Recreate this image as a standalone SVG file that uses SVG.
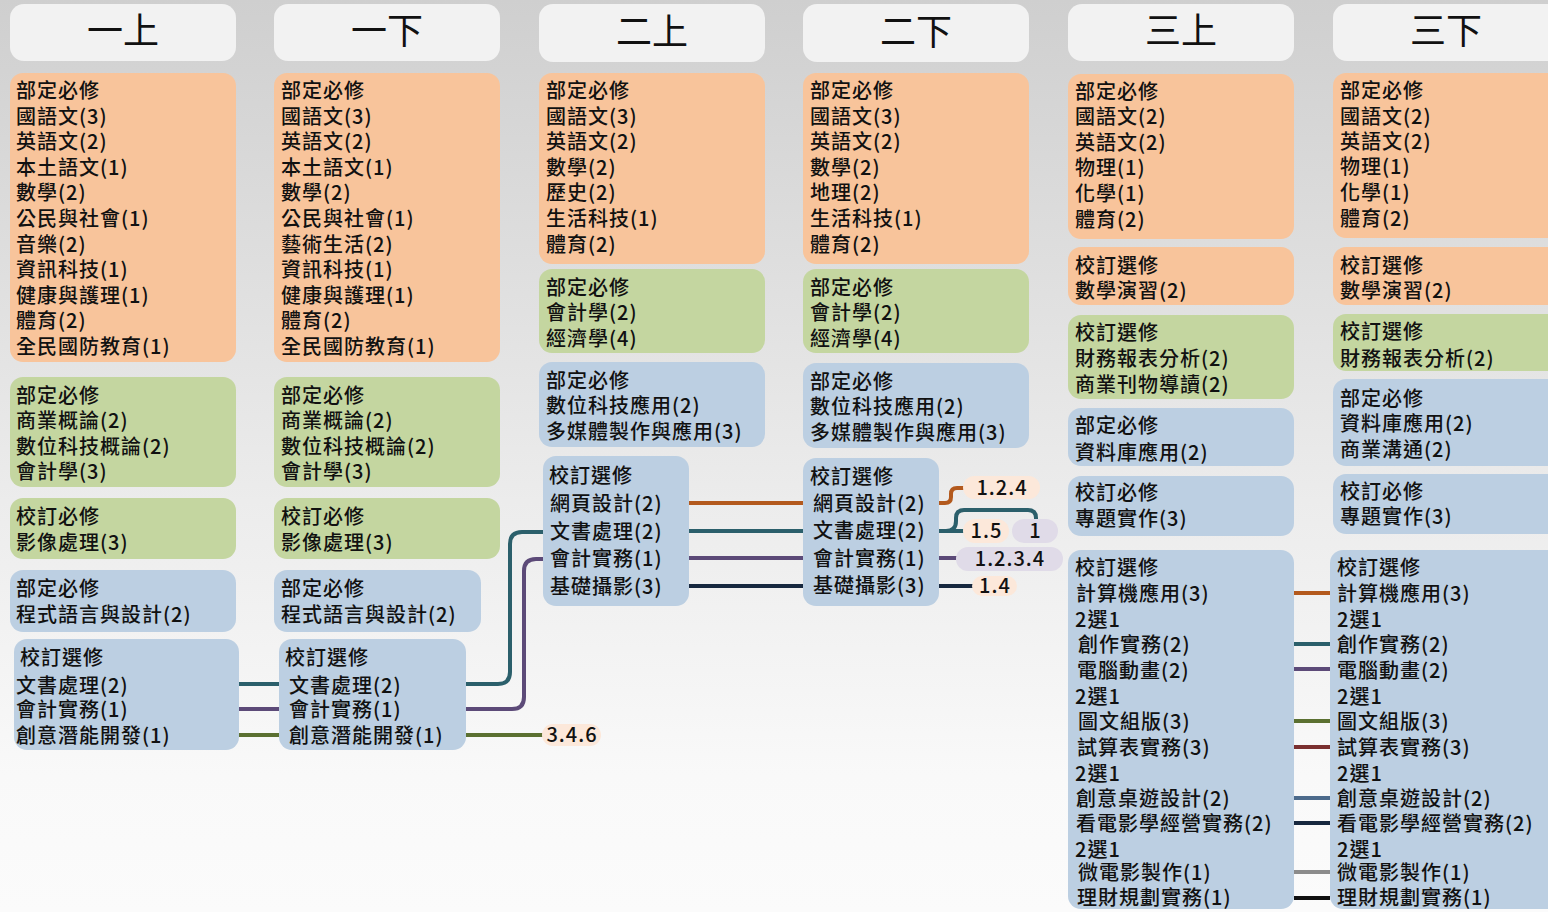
<svg xmlns="http://www.w3.org/2000/svg" width="1548" height="912" viewBox="0 0 1548 912">
<defs>
<linearGradient id="bg" x1="0" y1="0" x2="0" y2="1">
<stop offset="0" stop-color="#cfcfcf"/>
<stop offset="0.55" stop-color="#ececec"/>
<stop offset="0.85" stop-color="#f9f9f9"/>
<stop offset="1" stop-color="#fbfbfb"/>
</linearGradient>
<style>
text{font-family:"Noto Sans CJK TC","Noto Sans CJK SC",sans-serif;fill:#111;}
.hd{fill:#f2f2f2;}
.hdt{font-size:36px;text-anchor:middle;}
.t{font-size:20px;letter-spacing:1px;font-weight:500;}
.or{fill:#f8c49b;}
.gr{fill:#c4d6a0;}
.bl{fill:#bccfe2;}
.pp{fill:#fce8da;}
.pl{fill:#e0dbe8;}
.pt{font-size:20px;letter-spacing:1px;text-anchor:middle;font-weight:500;}
.c{fill:none;stroke-width:4;}
.c1{stroke:#b3591d;}
.c2{stroke:#2b5f6b;}
.c3{stroke:#5c4a78;}
.c4{stroke:#5b7031;}
.c5{stroke:#17283f;}
.c6{stroke:#7a3030;}
.c7{stroke:#4d6b8c;}
.c8{stroke:#8c8c8c;}
.c9{stroke:#111111;}
</style>
</defs>
<rect x="0" y="0" width="1548" height="912" fill="url(#bg)"/>

<g id="connectors">
<path class="c c2" d="M239,684 H279"/>
<path class="c c3" d="M239,709 H279"/>
<path class="c c4" d="M239,735 H279"/>
<path class="c c2" d="M466,684 H498 Q510,684 510,672 V544 Q510,532 522,532 H543"/>
<path class="c c3" d="M466,709 H512 Q524,709 524,697 V571 Q524,559 536,559 H543"/>
<path class="c c4" d="M466,735 H543"/>
<path class="c c1" d="M689,503 H803"/>
<path class="c c2" d="M689,531 H803"/>
<path class="c c3" d="M689,558 H803"/>
<path class="c c5" d="M689,586 H803"/>
<path class="c c1" d="M939,503 H945 Q951,503 951,497 V494 Q951,488 957,488 H964"/>
<path class="c c2" d="M939,531 H964"/>
<path class="c c2" d="M946,531 Q956,531 956,521 V518 Q956,510 964,510 H1028 Q1036,510 1036,518 V521"/>
<path class="c c3" d="M939,558 H958"/>
<path class="c c5" d="M939,586 H973"/>
<path class="c c1" d="M1294,593 H1330"/>
<path class="c c2" d="M1294,644 H1330"/>
<path class="c c3" d="M1294,669 H1330"/>
<path class="c c4" d="M1294,721 H1330"/>
<path class="c c6" d="M1294,747 H1330"/>
<path class="c c7" d="M1294,798 H1330"/>
<path class="c c5" d="M1294,823 H1330"/>
<path class="c c8" d="M1294,872 H1330"/>
<path class="c c9" d="M1294,898 H1330"/>
</g>

<g id="header-1a"><rect class="hd" x="10" y="4" width="226" height="57" rx="14"/><text class="hdt" x="123" y="44">一上</text></g>
<g id="header-1b"><rect class="hd" x="274" y="4" width="226" height="57" rx="14"/><text class="hdt" x="387" y="44">一下</text></g>
<g id="header-2a"><rect class="hd" x="539" y="4" width="226" height="58" rx="14"/><text class="hdt" x="652" y="45">二上</text></g>
<g id="header-2b"><rect class="hd" x="803" y="4" width="226" height="58" rx="14"/><text class="hdt" x="916" y="45">二下</text></g>
<g id="header-3a"><rect class="hd" x="1068" y="4" width="226" height="57" rx="14"/><text class="hdt" x="1181" y="44">三上</text></g>
<g id="header-3b"><rect class="hd" x="1333" y="4" width="240" height="57" rx="14"/><text class="hdt" x="1446" y="44">三下</text></g>

<!-- Column 1 -->
<g id="c1-core">
<rect class="or" x="10" y="73" width="226" height="289" rx="13"/>
<text class="t" x="16" y="98">部定必修</text>
<text class="t" x="16" y="123.6">國語文(3)</text>
<text class="t" x="16" y="149.2">英語文(2)</text>
<text class="t" x="16" y="174.8">本土語文(1)</text>
<text class="t" x="16" y="200.4">數學(2)</text>
<text class="t" x="16" y="226">公民與社會(1)</text>
<text class="t" x="16" y="251.6">音樂(2)</text>
<text class="t" x="16" y="277.2">資訊科技(1)</text>
<text class="t" x="16" y="302.8">健康與護理(1)</text>
<text class="t" x="16" y="328.4">體育(2)</text>
<text class="t" x="16" y="354">全民國防教育(1)</text>
</g>
<g id="c1-biz">
<rect class="gr" x="10" y="377" width="226" height="110" rx="13"/>
<text class="t" x="16" y="402.6">部定必修</text>
<text class="t" x="16" y="428.2">商業概論(2)</text>
<text class="t" x="16" y="453.8">數位科技概論(2)</text>
<text class="t" x="16" y="479.4">會計學(3)</text>
</g>
<g id="c1-req">
<rect class="gr" x="10" y="498" width="226" height="61" rx="13"/>
<text class="t" x="16" y="523.6">校訂必修</text>
<text class="t" x="16" y="549.6">影像處理(3)</text>
</g>
<g id="c1-prog">
<rect class="bl" x="10" y="570" width="226" height="62" rx="13"/>
<text class="t" x="16" y="596">部定必修</text>
<text class="t" x="16" y="621.6">程式語言與設計(2)</text>
</g>
<g id="c1-elec">
<rect class="bl" x="14" y="639" width="225" height="111" rx="13"/>
<text class="t" x="20" y="665">校訂選修</text>
<text class="t" x="16" y="692.6">文書處理(2)</text>
<text class="t" x="16" y="717">會計實務(1)</text>
<text class="t" x="16" y="742.6">創意潛能開發(1)</text>
</g>

<!-- Column 2 -->
<g id="c2-core">
<rect class="or" x="274" y="73" width="226" height="289" rx="13"/>
<text class="t" x="281" y="98">部定必修</text>
<text class="t" x="281" y="123.6">國語文(3)</text>
<text class="t" x="281" y="149.2">英語文(2)</text>
<text class="t" x="281" y="174.8">本土語文(1)</text>
<text class="t" x="281" y="200.4">數學(2)</text>
<text class="t" x="281" y="226">公民與社會(1)</text>
<text class="t" x="281" y="251.6">藝術生活(2)</text>
<text class="t" x="281" y="277.2">資訊科技(1)</text>
<text class="t" x="281" y="302.8">健康與護理(1)</text>
<text class="t" x="281" y="328.4">體育(2)</text>
<text class="t" x="281" y="354">全民國防教育(1)</text>
</g>
<g id="c2-biz">
<rect class="gr" x="274" y="377" width="226" height="110" rx="13"/>
<text class="t" x="281" y="402.6">部定必修</text>
<text class="t" x="281" y="428.2">商業概論(2)</text>
<text class="t" x="281" y="453.8">數位科技概論(2)</text>
<text class="t" x="281" y="479.4">會計學(3)</text>
</g>
<g id="c2-req">
<rect class="gr" x="274" y="498" width="226" height="61" rx="13"/>
<text class="t" x="281" y="523.6">校訂必修</text>
<text class="t" x="281" y="549.6">影像處理(3)</text>
</g>
<g id="c2-prog">
<rect class="bl" x="274" y="570" width="207" height="62" rx="13"/>
<text class="t" x="281" y="596">部定必修</text>
<text class="t" x="281" y="621.6">程式語言與設計(2)</text>
</g>
<g id="c2-elec">
<rect class="bl" x="279" y="639" width="187" height="111" rx="13"/>
<text class="t" x="285" y="665">校訂選修</text>
<text class="t" x="289" y="692.6">文書處理(2)</text>
<text class="t" x="289" y="717">會計實務(1)</text>
<text class="t" x="289" y="742.6">創意潛能開發(1)</text>
</g>

<!-- Column 3 -->
<g id="c3-core">
<rect class="or" x="539" y="73" width="226" height="191" rx="13"/>
<text class="t" x="546" y="98">部定必修</text>
<text class="t" x="546" y="123.6">國語文(3)</text>
<text class="t" x="546" y="149.2">英語文(2)</text>
<text class="t" x="546" y="174.8">數學(2)</text>
<text class="t" x="546" y="200.4">歷史(2)</text>
<text class="t" x="546" y="226">生活科技(1)</text>
<text class="t" x="546" y="251.6">體育(2)</text>
</g>
<g id="c3-biz">
<rect class="gr" x="539" y="269" width="226" height="84" rx="13"/>
<text class="t" x="546" y="294.6">部定必修</text>
<text class="t" x="546" y="320.4">會計學(2)</text>
<text class="t" x="546" y="346.2">經濟學(4)</text>
</g>
<g id="c3-dig">
<rect class="bl" x="539" y="362" width="226" height="85" rx="13"/>
<text class="t" x="546" y="387.6">部定必修</text>
<text class="t" x="546" y="413.4">數位科技應用(2)</text>
<text class="t" x="546" y="439.2">多媒體製作與應用(3)</text>
</g>
<g id="c3-elec">
<rect class="bl" x="543" y="456" width="146" height="150" rx="13"/>
<text class="t" x="549" y="482.6">校訂選修</text>
<text class="t" x="550" y="510.6">網頁設計(2)</text>
<text class="t" x="550" y="538.6">文書處理(2)</text>
<text class="t" x="550" y="565.8">會計實務(1)</text>
<text class="t" x="550" y="593.6">基礎攝影(3)</text>
</g>

<!-- Column 4 -->
<g id="c4-core">
<rect class="or" x="803" y="73" width="226" height="191" rx="13"/>
<text class="t" x="810" y="98">部定必修</text>
<text class="t" x="810" y="123.6">國語文(3)</text>
<text class="t" x="810" y="149.2">英語文(2)</text>
<text class="t" x="810" y="174.8">數學(2)</text>
<text class="t" x="810" y="200.4">地理(2)</text>
<text class="t" x="810" y="226">生活科技(1)</text>
<text class="t" x="810" y="251.6">體育(2)</text>
</g>
<g id="c4-biz">
<rect class="gr" x="803" y="269" width="226" height="84" rx="13"/>
<text class="t" x="810" y="294.6">部定必修</text>
<text class="t" x="810" y="320.4">會計學(2)</text>
<text class="t" x="810" y="346.2">經濟學(4)</text>
</g>
<g id="c4-dig">
<rect class="bl" x="803" y="363" width="226" height="85" rx="13"/>
<text class="t" x="810" y="388.6">部定必修</text>
<text class="t" x="810" y="414.4">數位科技應用(2)</text>
<text class="t" x="810" y="440.2">多媒體製作與應用(3)</text>
</g>
<g id="c4-elec">
<rect class="bl" x="803" y="458" width="136" height="148" rx="13"/>
<text class="t" x="810" y="483.6">校訂選修</text>
<text class="t" x="813" y="510.9">網頁設計(2)</text>
<text class="t" x="813" y="538.3">文書處理(2)</text>
<text class="t" x="813" y="565.9">會計實務(1)</text>
<text class="t" x="813" y="593.3">基礎攝影(3)</text>
</g>

<!-- Tags -->
<g id="tag-346"><rect class="pp" x="542" y="724" width="59" height="22" rx="11"/><text class="pt" x="572" y="742.3">3.4.6</text></g>
<g id="tag-124"><rect class="pp" x="963" y="476" width="77" height="23" rx="11.5"/><text class="pt" x="1002" y="494.8">1.2.4</text></g>
<g id="tag-15"><rect class="pp" x="963" y="519" width="46" height="24" rx="12"/><text class="pt" x="986.5" y="538.3">1.5</text></g>
<g id="tag-1"><rect class="pl" x="1012" y="519" width="46" height="24" rx="12"/><text class="pt" x="1035.5" y="538.3">1</text></g>
<g id="tag-1234"><rect class="pl" x="956" y="547" width="107" height="24" rx="12"/><text class="pt" x="1010" y="566.3">1.2.3.4</text></g>
<g id="tag-14"><rect class="pp" x="972" y="576" width="45" height="20" rx="10"/><text class="pt" x="995" y="593.3">1.4</text></g>

<!-- Column 5 -->
<g id="c5-core">
<rect class="or" x="1068" y="74" width="226" height="165" rx="13"/>
<text class="t" x="1075" y="98.6">部定必修</text>
<text class="t" x="1075" y="124.2">國語文(2)</text>
<text class="t" x="1075" y="149.8">英語文(2)</text>
<text class="t" x="1075" y="175.4">物理(1)</text>
<text class="t" x="1075" y="201">化學(1)</text>
<text class="t" x="1075" y="226.6">體育(2)</text>
</g>
<g id="c5-math">
<rect class="or" x="1068" y="247" width="226" height="58" rx="13"/>
<text class="t" x="1075" y="272.6">校訂選修</text>
<text class="t" x="1075" y="298.2">數學演習(2)</text>
</g>
<g id="c5-fin">
<rect class="gr" x="1068" y="315" width="226" height="84" rx="13"/>
<text class="t" x="1075" y="339.6">校訂選修</text>
<text class="t" x="1075" y="365.8">財務報表分析(2)</text>
<text class="t" x="1075" y="392">商業刊物導讀(2)</text>
</g>
<g id="c5-db">
<rect class="bl" x="1068" y="408" width="226" height="58" rx="13"/>
<text class="t" x="1075" y="433.4">部定必修</text>
<text class="t" x="1075" y="460.4">資料庫應用(2)</text>
</g>
<g id="c5-proj">
<rect class="bl" x="1068" y="476" width="226" height="60" rx="13"/>
<text class="t" x="1075" y="500.3">校訂必修</text>
<text class="t" x="1075" y="525.9">專題實作(3)</text>
</g>
<g id="c5-elec">
<rect class="bl" x="1068" y="550" width="226" height="359" rx="13"/>
<text class="t" x="1075" y="574.6">校訂選修</text>
<text class="t" x="1076" y="600.6">計算機應用(3)</text>
<text class="t" x="1075" y="626.6">2選1</text>
<text class="t" x="1078" y="651.6">創作實務(2)</text>
<text class="t" x="1077" y="677.6">電腦動畫(2)</text>
<text class="t" x="1075" y="703.6">2選1</text>
<text class="t" x="1078" y="728.6">圖文組版(3)</text>
<text class="t" x="1077" y="754.6">試算表實務(3)</text>
<text class="t" x="1075" y="780.6">2選1</text>
<text class="t" x="1076" y="805.6">創意桌遊設計(2)</text>
<text class="t" x="1076" y="830.6">看電影學經營實務(2)</text>
<text class="t" x="1075" y="856.6">2選1</text>
<text class="t" x="1078" y="879.6">微電影製作(1)</text>
<text class="t" x="1077" y="904.6">理財規劃實務(1)</text>
</g>

<!-- Column 6 -->
<g id="c6-core">
<rect class="or" x="1333" y="73" width="240" height="165" rx="13"/>
<text class="t" x="1340" y="97.6">部定必修</text>
<text class="t" x="1340" y="123.6">國語文(2)</text>
<text class="t" x="1340" y="149.3">英語文(2)</text>
<text class="t" x="1340" y="174.3">物理(1)</text>
<text class="t" x="1340" y="199.9">化學(1)</text>
<text class="t" x="1340" y="225.9">體育(2)</text>
</g>
<g id="c6-math">
<rect class="or" x="1333" y="247" width="240" height="58" rx="13"/>
<text class="t" x="1340" y="272.6">校訂選修</text>
<text class="t" x="1340" y="297.6">數學演習(2)</text>
</g>
<g id="c6-fin">
<rect class="gr" x="1333" y="314" width="240" height="57" rx="13"/>
<text class="t" x="1340" y="339.3">校訂選修</text>
<text class="t" x="1340" y="365.9">財務報表分析(2)</text>
</g>
<g id="c6-db">
<rect class="bl" x="1333" y="379" width="240" height="87" rx="13"/>
<text class="t" x="1340" y="405.9">部定必修</text>
<text class="t" x="1340" y="430.9">資料庫應用(2)</text>
<text class="t" x="1340" y="456.9">商業溝通(2)</text>
</g>
<g id="c6-proj">
<rect class="bl" x="1333" y="474" width="240" height="60" rx="13"/>
<text class="t" x="1340" y="499.3">校訂必修</text>
<text class="t" x="1340" y="524.3">專題實作(3)</text>
</g>
<g id="c6-elec">
<rect class="bl" x="1330" y="550" width="243" height="359" rx="13"/>
<text class="t" x="1337" y="574.6">校訂選修</text>
<text class="t" x="1337" y="600.6">計算機應用(3)</text>
<text class="t" x="1337" y="626.6">2選1</text>
<text class="t" x="1337" y="651.6">創作實務(2)</text>
<text class="t" x="1337" y="677.6">電腦動畫(2)</text>
<text class="t" x="1337" y="703.6">2選1</text>
<text class="t" x="1337" y="728.6">圖文組版(3)</text>
<text class="t" x="1337" y="754.6">試算表實務(3)</text>
<text class="t" x="1337" y="780.6">2選1</text>
<text class="t" x="1337" y="805.6">創意桌遊設計(2)</text>
<text class="t" x="1337" y="830.6">看電影學經營實務(2)</text>
<text class="t" x="1337" y="856.6">2選1</text>
<text class="t" x="1337" y="879.6">微電影製作(1)</text>
<text class="t" x="1337" y="904.6">理財規劃實務(1)</text>
</g>
</svg>
